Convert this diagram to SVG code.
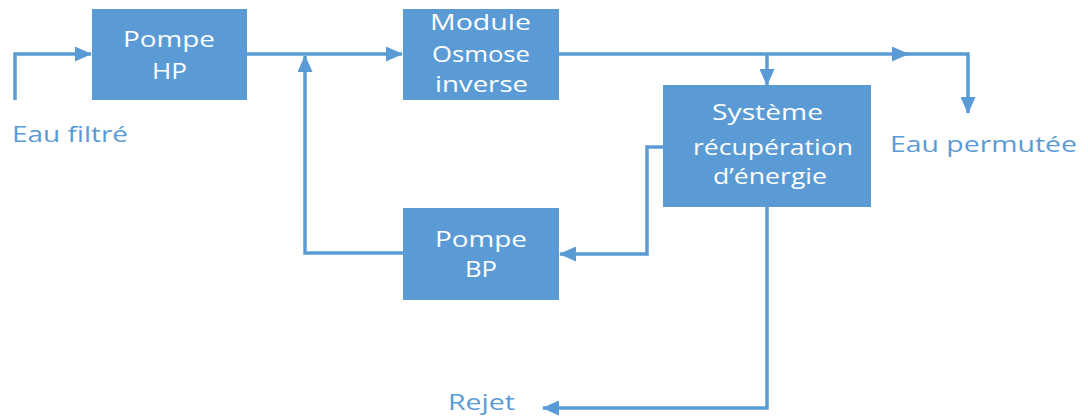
<svg xmlns="http://www.w3.org/2000/svg" width="1088" height="419" viewBox="0 0 1088 419">
<style>
.box{fill:#5B9BD5}
.bt{fill:#ffffff;font-family:"Open Sans","Liberation Sans",sans-serif;font-size:22.5px;text-anchor:start}
.lb{fill:#5B9BD5;font-family:"Open Sans","Liberation Sans",sans-serif;font-size:22.5px}
.ln{fill:none;stroke:#5B9BD5;stroke-width:3.5;stroke-linejoin:miter}
</style>
<defs>
<marker id="ah" markerUnits="userSpaceOnUse" markerWidth="17" markerHeight="15" refX="16" refY="7.5" orient="auto">
<path d="M0,0 L17,7.5 L0,15 Z" fill="#5B9BD5"/>
</marker>
</defs>
<rect width="1088" height="419" fill="#ffffff"/>
<g id="connectors">
<path class="ln" d="M15,100 L15,54 L91,54" marker-end="url(#ah)"/>
<path class="ln" d="M247,54 L402,54" marker-end="url(#ah)"/>
<path class="ln" d="M403,253 L305,253 L305,56" marker-end="url(#ah)"/>
<path class="ln" d="M559,54 L908,54" marker-end="url(#ah)"/>
<path class="ln" d="M906,54 L968,54 L968,113" marker-end="url(#ah)"/>
<path class="ln" d="M767,54 L767,85" marker-end="url(#ah)"/>
<path class="ln" d="M663,147 L647,147 L647,254 L560,254" marker-end="url(#ah)"/>
<path class="ln" d="M767,207 L767,408 L543,408" marker-end="url(#ah)"/>
</g>
<g id="pompe-hp">
<rect class="box" x="92" y="9" width="155" height="91"/>
<text class="bt" x="123" y="47" textLength="92" lengthAdjust="spacingAndGlyphs">Pompe</text>
<text class="bt" x="152" y="79" textLength="35" lengthAdjust="spacingAndGlyphs">HP</text>
</g>
<g id="module-osmose">
<rect class="box" x="403" y="9" width="156" height="91"/>
<text class="bt" x="430" y="30" textLength="101" lengthAdjust="spacingAndGlyphs">Module</text>
<text class="bt" x="432" y="62" textLength="98" lengthAdjust="spacingAndGlyphs">Osmose</text>
<text class="bt" x="435" y="92" textLength="93" lengthAdjust="spacingAndGlyphs">inverse</text>
</g>
<g id="systeme-recuperation">
<rect class="box" x="663" y="85" width="208" height="122"/>
<text class="bt" x="712" y="120" textLength="111" lengthAdjust="spacingAndGlyphs">Système</text>
<text class="bt" x="693" y="155" textLength="160" lengthAdjust="spacingAndGlyphs">récupération</text>
<text class="bt" x="713" y="184" textLength="114" lengthAdjust="spacingAndGlyphs">d’énergie</text>
</g>
<g id="pompe-bp">
<rect class="box" x="403" y="208" width="156" height="92"/>
<text class="bt" x="435" y="247" textLength="92" lengthAdjust="spacingAndGlyphs">Pompe</text>
<text class="bt" x="465" y="277" textLength="32" lengthAdjust="spacingAndGlyphs">BP</text>
</g>
<g id="label-eau-filtre">
<text class="lb" x="12" y="142" textLength="116" lengthAdjust="spacingAndGlyphs">Eau filtré</text>
</g>
<g id="label-eau-permutee">
<text class="lb" x="890" y="152" textLength="187" lengthAdjust="spacingAndGlyphs">Eau permutée</text>
</g>
<g id="label-rejet">
<text class="lb" x="448" y="410" textLength="67" lengthAdjust="spacingAndGlyphs">Rejet</text>
</g>
</svg>
